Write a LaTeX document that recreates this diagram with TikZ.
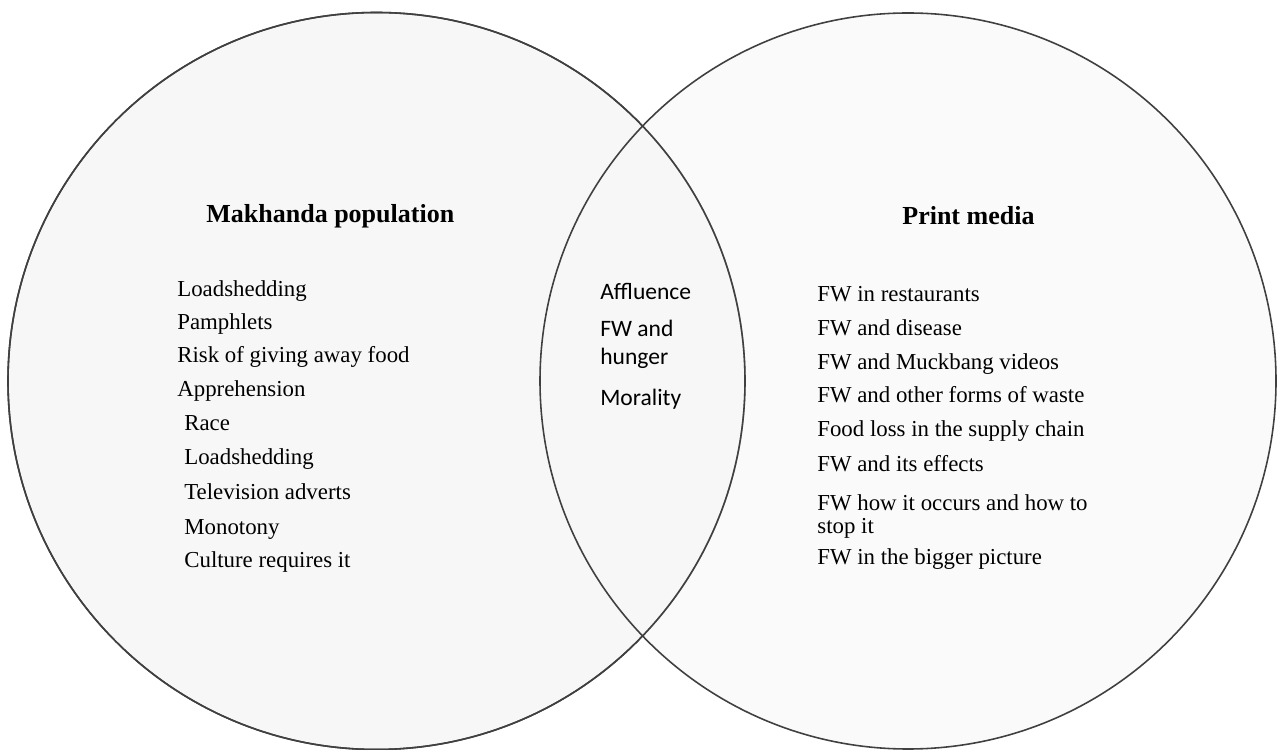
\documentclass[tikz,border=0pt]{standalone}
\usepackage{fontspec}
\setmainfont{Liberation Serif}
\newfontfamily\calibri{Carlito}
\usetikzlibrary{positioning}

\begin{document}
\begin{tikzpicture}[
    set/.style={draw=black!75, line width=0.9pt, fill=black!3},
    title/.style={anchor=base west, inner sep=0pt, font=\fontsize{14.8}{17}\selectfont\bfseries},
    item/.style={anchor=base west, inner sep=0pt, font=\fontsize{13}{15.6}\selectfont},
    both/.style={anchor=base west, inner sep=0pt, font=\fontsize{13.4}{16}\selectfont\calibri}]

                \useasboundingbox (0,0) rectangle (25.64,14.98);

                % Sets
                \draw[set] (7.53,7.36) circle (7.37);
                \draw[set, fill opacity=0.6] (18.16,7.36) circle (7.36);
                \draw[draw=black!75, line width=0.9pt] (7.53,7.36) circle (7.37);

                % Titles
                \node[title] (town) at (4.12,10.52) {Makhanda population};
                \node[title] (print) at (18.04,10.48) {Print media};

                % Makhanda population
                \node[item] (town1) at (3.54,9.05) {Loadshedding};
                \node[item] (town2) at (3.54,8.38) {Pamphlets};
                \node[item] (town3) at (3.54,7.72) {Risk of giving away food};
                \node[item] (town4) at (3.54,7.04) {Apprehension};
                \node[item] (town5) at (3.68,6.36) {Race};
                \node[item] (town6) at (3.68,5.68) {Loadshedding};
                \node[item] (town7) at (3.68,4.98) {Television adverts};
                \node[item] (town8) at (3.68,4.30) {Monotony};
                \node[item] (town9) at (3.68,3.64) {Culture requires it};

                % Overlap
                \node[both] (both1) at (12.0,8.98) {Affluence};
                \node[both, align=left] (both2) at (12.0,7.68) {FW and\\[0.5pt]hunger};
                \node[both] (both3) at (12.0,6.86) {Morality};

                % Print media
                \node[item] (print1) at (16.34,8.94) {FW in restaurants};
                \node[item] (print2) at (16.34,8.26) {FW and disease};
                \node[item] (print3) at (16.34,7.58) {FW and Muckbang videos};
                \node[item] (print4) at (16.34,6.92) {FW and other forms of waste};
                \node[item] (print5) at (16.34,6.24) {Food loss in the supply chain};
                \node[item] (print6) at (16.34,5.54) {FW and its effects};
                \node[item, align=left] (print7) at (16.34,4.32) {FW how it occurs and how to\\[-3pt]stop it};
                \node[item] (print8) at (16.34,3.70) {FW in the bigger picture};

            \end{tikzpicture}
\end{document}
